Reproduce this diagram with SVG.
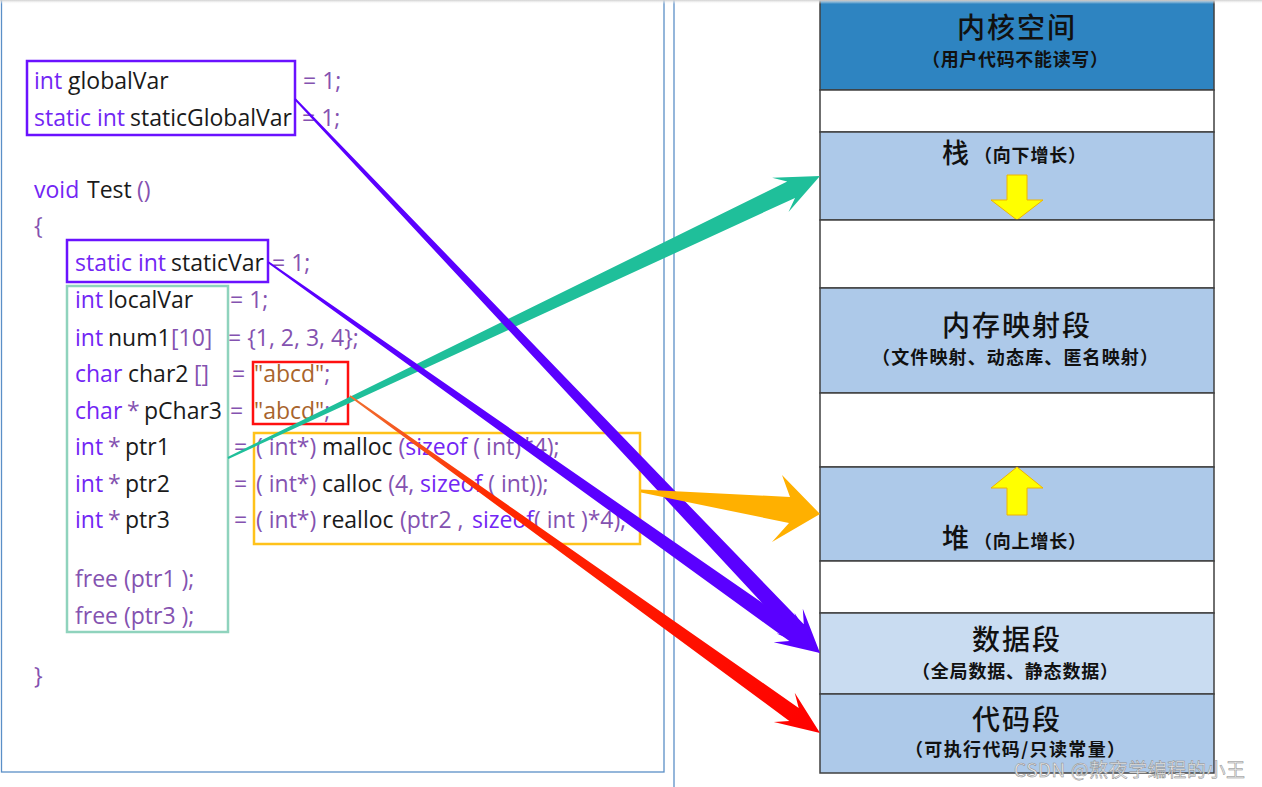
<svg xmlns="http://www.w3.org/2000/svg" width="1262" height="787" viewBox="0 0 1262 787">
<defs>
<style>
.code{font-family:"Open Sans","Noto Sans",sans-serif;font-size:23px}
.kw{fill:#7226f4}
.op{fill:#8452b0}
.id{fill:#1a1a1a}
.str{fill:#a8642c}
.box{fill:none;stroke-width:2.5}
.seg{stroke:#404040;stroke-width:1.5}
.ttl{font-family:"Noto Sans CJK SC",sans-serif;font-size:28px;font-weight:500;fill:#111;text-anchor:middle;letter-spacing:2px}
.sub{font-family:"Noto Sans CJK SC",sans-serif;font-size:18px;font-weight:700;fill:#111}
.big{font-family:"Noto Sans CJK SC",sans-serif;font-size:27px;font-weight:500;fill:#111}
.ya{fill:#ffff00;stroke:#f0b400;stroke-width:1}
</style>
<linearGradient id="topbar" x1="0" y1="0" x2="0" y2="1">
<stop offset="0" stop-color="#cfcfcf"/>
<stop offset="1" stop-color="#ffffff" stop-opacity="0"/>
</linearGradient>
<linearGradient id="redg" gradientUnits="userSpaceOnUse" x1="350" y1="396" x2="820" y2="733">
<stop offset="0" stop-color="#f07030"/>
<stop offset="0.3" stop-color="#ff2a00"/>
<stop offset="1" stop-color="#ff0000"/>
</linearGradient>
</defs>
<rect width="1262" height="787" fill="#ffffff"/>

<g id="panels">
<rect x="1.5" y="-5" width="662.5" height="777" fill="none" stroke="#5b8fc7" stroke-width="1.3"/>
<line x1="674" y1="0" x2="674" y2="787" stroke="#5b8fc7" stroke-width="1.3"/>
</g>

<g id="code">
<text class="code" y="89"><tspan x="34" class="kw">int</tspan><tspan x="68" class="id">globalVar</tspan><tspan x="303" class="op">= 1;</tspan></text>
<text class="code" y="126"><tspan x="34" class="kw">static int</tspan><tspan x="130" class="id">staticGlobalVar</tspan><tspan x="302" class="op">= 1;</tspan></text>
<text class="code" y="198"><tspan x="34" class="kw">void</tspan><tspan x="87" class="id">Test</tspan><tspan x="137" class="op">()</tspan></text>
<text class="code" y="234"><tspan x="34" class="op">{</tspan></text>
<text class="code" y="271"><tspan x="75" class="kw">static int</tspan><tspan x="171" class="id">staticVar</tspan><tspan x="272" class="op">= 1;</tspan></text>
<text class="code" y="308"><tspan x="75" class="kw">int</tspan><tspan x="108" class="id">localVar</tspan><tspan x="230" class="op">= 1;</tspan></text>
<text class="code" y="346"><tspan x="75" class="kw">int</tspan><tspan x="108" class="id">num1</tspan><tspan x="171" class="op">[10]</tspan><tspan x="228" class="op">= {1, 2, 3, 4};</tspan></text>
<text class="code" y="382"><tspan x="75" class="kw">char</tspan><tspan x="128" class="id">char2</tspan><tspan x="194" class="op">[]</tspan><tspan x="232" class="op">=</tspan><tspan x="254" class="str">"abcd"</tspan><tspan class="op">;</tspan></text>
<text class="code" y="419"><tspan x="75" class="kw">char</tspan><tspan x="127" class="op">*</tspan><tspan x="144" class="id">pChar3</tspan><tspan x="230" class="op">=</tspan><tspan x="254" class="str">"abcd"</tspan><tspan class="op">;</tspan></text>
<text class="code" y="455"><tspan x="75" class="kw">int</tspan><tspan x="108" class="op">*</tspan><tspan x="125" class="id">ptr1</tspan><tspan x="234" class="op">=</tspan><tspan x="256" class="op">( int*)</tspan><tspan x="322" class="id">malloc</tspan><tspan class="op"> (</tspan><tspan class="kw">sizeof</tspan><tspan class="op"> ( int)*4);</tspan></text>
<text class="code" y="492"><tspan x="75" class="kw">int</tspan><tspan x="108" class="op">*</tspan><tspan x="125" class="id">ptr2</tspan><tspan x="234" class="op">=</tspan><tspan x="256" class="op">( int*)</tspan><tspan x="322" class="id">calloc</tspan><tspan class="op"> (4, </tspan><tspan class="kw">sizeof</tspan><tspan class="op"> ( int));</tspan></text>
<text class="code" y="528"><tspan x="75" class="kw">int</tspan><tspan x="108" class="op">*</tspan><tspan x="125" class="id">ptr3</tspan><tspan x="234" class="op">=</tspan><tspan x="256" class="op">( int*)</tspan><tspan x="322" class="id">realloc</tspan><tspan x="400" class="op">(ptr2 ,</tspan><tspan x="472" class="kw">sizeof</tspan><tspan class="op">( int )*4);</tspan></text>
<text class="code" y="587"><tspan x="75" class="op">free (ptr1 );</tspan></text>
<text class="code" y="624"><tspan x="75" class="op">free (ptr3 );</tspan></text>
<text class="code" y="684"><tspan x="34" class="op">}</tspan></text>
</g>

<g id="box-global"><rect class="box" x="27" y="61" width="268" height="74" stroke="#6a12ff"/></g>
<g id="box-staticvar"><rect class="box" x="67" y="240" width="201" height="42" stroke="#6a12ff"/></g>
<g id="box-local"><rect class="box" x="67" y="286" width="161" height="346" stroke="#8fd3bd"/></g>
<g id="box-const"><rect class="box" x="253" y="362" width="95" height="62" stroke="#ff1010"/></g>
<g id="box-heap"><rect class="box" x="254" y="433" width="386" height="111" stroke="#ffc21a"/></g>

<g id="memory">
<g id="seg-kernel"><rect class="seg" x="820" y="0" width="394" height="90" fill="#2e84c1"/>
<text class="ttl" x="1017" y="38">内核空间</text>
<text class="sub" x="1015" y="66" text-anchor="middle" textLength="186" lengthAdjust="spacing">（用户代码不能读写）</text></g>
<g id="seg-gap1"><rect class="seg" x="820" y="90" width="394" height="42" fill="#ffffff"/></g>
<g id="seg-stack"><rect class="seg" x="820" y="132" width="394" height="88" fill="#adc9e9"/>
<text class="big" x="942" y="163">栈</text>
<text class="sub" x="974" y="162" textLength="112" lengthAdjust="spacing">（向下增长）</text>
<polygon class="ya" points="1007,175 1027,175 1027,200 1043,200 1017,220 991,200 1007,200"/></g>
<g id="seg-gap2"><rect class="seg" x="820" y="220" width="394" height="68" fill="#ffffff"/></g>
<g id="seg-mmap"><rect class="seg" x="820" y="288" width="394" height="105" fill="#adc9e9"/>
<text class="ttl" x="1017" y="336">内存映射段</text>
<text class="sub" x="1015" y="364" text-anchor="middle" textLength="286" lengthAdjust="spacing">（文件映射、动态库、匿名映射）</text></g>
<g id="seg-gap3"><rect class="seg" x="820" y="393" width="394" height="74" fill="#ffffff"/></g>
<g id="seg-heap"><rect class="seg" x="820" y="467" width="394" height="94" fill="#adc9e9"/>
<polygon class="ya" points="1017,467 1043,488 1027,488 1027,515 1007,515 1007,488 991,488"/>
<text class="big" x="942" y="548">堆</text>
<text class="sub" x="974" y="548" textLength="112" lengthAdjust="spacing">（向上增长）</text></g>
<g id="seg-gap4"><rect class="seg" x="820" y="561" width="394" height="52" fill="#ffffff"/></g>
<g id="seg-data"><rect class="seg" x="820" y="613" width="394" height="81" fill="#c9dcf1"/>
<text class="ttl" x="1017" y="650">数据段</text>
<text class="sub" x="1015" y="678" text-anchor="middle" textLength="206" lengthAdjust="spacing">（全局数据、静态数据）</text></g>
<g id="seg-code"><rect class="seg" x="820" y="694" width="394" height="79" fill="#adc9e9"/>
<text class="ttl" x="1017" y="730">代码段</text>
<text class="sub" x="1015" y="756" text-anchor="middle" textLength="220" lengthAdjust="spacing">（可执行代码/只读常量）</text></g>
</g>

<g id="connectors">
<polygon fill="#1fbf9a" points="228.4,458.9 795.0,197.9 788.5,212.1 820,176 772.1,177.8 787.2,181.6 227.6,457.1"/>
<polygon fill="#5a00ff" points="294.3,99.7 792.2,635.3 776.7,633.4 820,653 802.8,608.7 803.8,624.3 295.7,98.3"/>
<polygon fill="#5a00ff" points="267.4,262.8 789.3,641.0 773.7,642.3 820,653 794.5,612.9 798.5,628.0 268.6,261.2"/>
<polygon fill="url(#redg)" points="349.5,396.7 789.3,720.9 773.8,722.0 820,733 794.7,692.7 798.7,707.9 350.5,395.3"/>
<polygon fill="#ffb000" points="641,489.5 790,497 782,475 820,514 772,542 789,523 641,492.5"/>
</g>

<rect x="0" y="0" width="1262" height="4" fill="url(#topbar)"/>
<text x="1014" y="777" font-family="Noto Sans CJK SC, sans-serif" font-size="19" fill="#ececec" stroke="#8a8a8a" stroke-width="0.5" textLength="231" lengthAdjust="spacing">CSDN @熬夜学编程的小王</text>
</svg>
